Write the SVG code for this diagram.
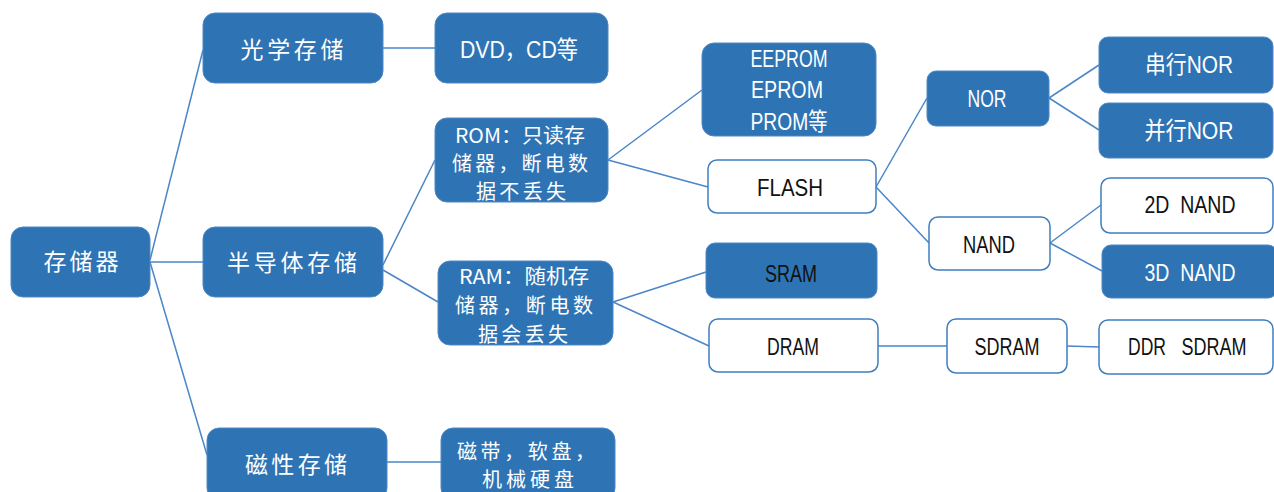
<svg xmlns="http://www.w3.org/2000/svg" width="1274" height="492" viewBox="0 0 1274 492">
<style>
.b{fill:#2E74B5;stroke:#4F88C6;stroke-width:1}
.w{fill:#FFFFFF;stroke:#3F7FC1;stroke-width:1.5}
.c{stroke:#4A86C8;stroke-width:1.5;fill:none}
text{font-family:"Liberation Sans","Noto Sans CJK SC",sans-serif;text-anchor:middle;white-space:pre}
.zh{font-family:"Noto Sans CJK SC","Liberation Sans",sans-serif;font-size:23px;fill:#FFFFFF}
.zs{font-family:"Noto Sans CJK SC","Liberation Sans",sans-serif;font-size:20px;fill:#FFFFFF}
.lw{font-size:24px;fill:#FFFFFF}
.lk{font-size:24px;fill:#111111}
</style>
<rect width="1274" height="492" fill="#FFFFFF"/>
<g id="connectors">
<line class="c" x1="150" y1="260" x2="203" y2="50"/>
<line class="c" x1="150" y1="262" x2="203" y2="262"/>
<line class="c" x1="150" y1="262" x2="207" y2="455"/>
<line class="c" x1="383" y1="48" x2="435" y2="48"/>
<line class="c" x1="383" y1="265" x2="435" y2="160"/>
<line class="c" x1="383" y1="270" x2="438" y2="302"/>
<line class="c" x1="387" y1="462" x2="441" y2="462"/>
<line class="c" x1="608" y1="160" x2="702" y2="90"/>
<line class="c" x1="608" y1="160" x2="708" y2="187"/>
<line class="c" x1="613" y1="302" x2="706" y2="272"/>
<line class="c" x1="613" y1="302" x2="709" y2="346"/>
<line class="c" x1="876" y1="187" x2="927" y2="98"/>
<line class="c" x1="876" y1="187" x2="929" y2="243"/>
<line class="c" x1="878" y1="346" x2="947" y2="346"/>
<line class="c" x1="1067" y1="346" x2="1099" y2="347"/>
<line class="c" x1="1049" y1="98" x2="1099" y2="65"/>
<line class="c" x1="1049" y1="98" x2="1099" y2="130"/>
<line class="c" x1="1050" y1="243" x2="1101" y2="205"/>
<line class="c" x1="1050" y1="243" x2="1102" y2="271"/>
</g>
<g id="n-root"><rect class="b" x="11" y="227" width="139" height="70" rx="12"/><text class="zh" x="81" y="270" textLength="75" lengthAdjust="spacing">存储器</text></g>
<g id="n-optical"><rect class="b" x="203" y="13" width="180" height="70" rx="12"/><text class="zh" x="292" y="58" textLength="103" lengthAdjust="spacing">光学存储</text></g>
<g id="n-semi"><rect class="b" x="203" y="227" width="180" height="70" rx="12"/><text class="zh" x="292" y="271" textLength="130" lengthAdjust="spacing">半导体存储</text></g>
<g id="n-magnetic"><rect class="b" x="207" y="428" width="180" height="72" rx="12"/><text class="zh" x="296" y="473" textLength="102" lengthAdjust="spacing">磁性存储</text></g>
<g id="n-dvd"><rect class="b" x="435" y="13" width="173" height="70" rx="12"/><text class="lw" x="519" y="58" textLength="118" lengthAdjust="spacingAndGlyphs">DVD，CD等</text></g>
<g id="n-rom"><rect class="b" x="435" y="118" width="173" height="84" rx="12"/>
<text class="zs" x="520" y="143" textLength="130" lengthAdjust="spacingAndGlyphs">ROM：只读存</text>
<text class="zs" x="520" y="171" textLength="136" lengthAdjust="spacing">储器，断电数</text>
<text class="zs" x="521" y="199" textLength="90" lengthAdjust="spacing">据不丢失</text></g>
<g id="n-ram"><rect class="b" x="438" y="261" width="175" height="84" rx="12"/>
<text class="zs" x="524" y="284" textLength="130" lengthAdjust="spacingAndGlyphs">RAM：随机存</text>
<text class="zs" x="524" y="313" textLength="138" lengthAdjust="spacing">储器，断电数</text>
<text class="zs" x="523" y="342" textLength="90" lengthAdjust="spacing">据会丢失</text></g>
<g id="n-tape"><rect class="b" x="441" y="428" width="174" height="72" rx="12"/>
<text class="zs" x="526" y="459" textLength="138" lengthAdjust="spacing">磁带，软盘，</text>
<text class="zs" x="528" y="487" textLength="92" lengthAdjust="spacing">机械硬盘</text></g>
<g id="n-eeprom"><rect class="b" x="702" y="43" width="174" height="93" rx="12"/>
<text class="lw" x="789" y="67" textLength="77" lengthAdjust="spacingAndGlyphs">EEPROM</text>
<text class="lw" x="787" y="98" textLength="72" lengthAdjust="spacingAndGlyphs">EPROM</text>
<text class="lw" x="789" y="130" textLength="77" lengthAdjust="spacingAndGlyphs">PROM等</text></g>
<g id="n-flash"><rect class="w" x="708" y="160" width="168" height="53" rx="9"/><text class="lk" x="790" y="196" textLength="66" lengthAdjust="spacingAndGlyphs">FLASH</text></g>
<g id="n-sram"><rect class="b" x="706" y="243" width="171" height="55" rx="9"/><text class="lk" x="791" y="282" textLength="52" lengthAdjust="spacingAndGlyphs">SRAM</text></g>
<g id="n-dram"><rect class="w" x="709" y="319" width="169" height="53" rx="9"/><text class="lk" x="793" y="355" textLength="52" lengthAdjust="spacingAndGlyphs">DRAM</text></g>
<g id="n-nor"><rect class="b" x="927" y="71" width="122" height="55" rx="9"/><text class="lw" x="987" y="107" textLength="39" lengthAdjust="spacingAndGlyphs">NOR</text></g>
<g id="n-nand"><rect class="w" x="929" y="217" width="121" height="53" rx="9"/><text class="lk" x="989" y="253" textLength="52" lengthAdjust="spacingAndGlyphs">NAND</text></g>
<g id="n-sdram"><rect class="w" x="947" y="319" width="120" height="54" rx="9"/><text class="lk" x="1007" y="355" textLength="65" lengthAdjust="spacingAndGlyphs">SDRAM</text></g>
<g id="n-snor"><rect class="b" x="1099" y="37" width="174" height="56" rx="9"/><text class="lw" x="1189" y="73" textLength="88" lengthAdjust="spacingAndGlyphs">串行NOR</text></g>
<g id="n-pnor"><rect class="b" x="1099" y="103" width="174" height="55" rx="9"/><text class="lw" x="1189" y="139" textLength="89" lengthAdjust="spacingAndGlyphs">并行NOR</text></g>
<g id="n-2d"><rect class="w" x="1101" y="178" width="172" height="55" rx="9"/><text class="lk" x="1190" y="213" textLength="91" lengthAdjust="spacingAndGlyphs">2D  NAND</text></g>
<g id="n-3d"><rect class="b" x="1102" y="245" width="175" height="53" rx="9"/><text class="lw" x="1190" y="281" textLength="91" lengthAdjust="spacingAndGlyphs">3D  NAND</text></g>
<g id="n-ddr"><rect class="w" x="1099" y="320" width="174" height="54" rx="9"/><text class="lk" x="1147" y="355" textLength="38" lengthAdjust="spacingAndGlyphs">DDR</text><text class="lk" x="1214" y="355" textLength="65" lengthAdjust="spacingAndGlyphs">SDRAM</text></g>
</svg>
